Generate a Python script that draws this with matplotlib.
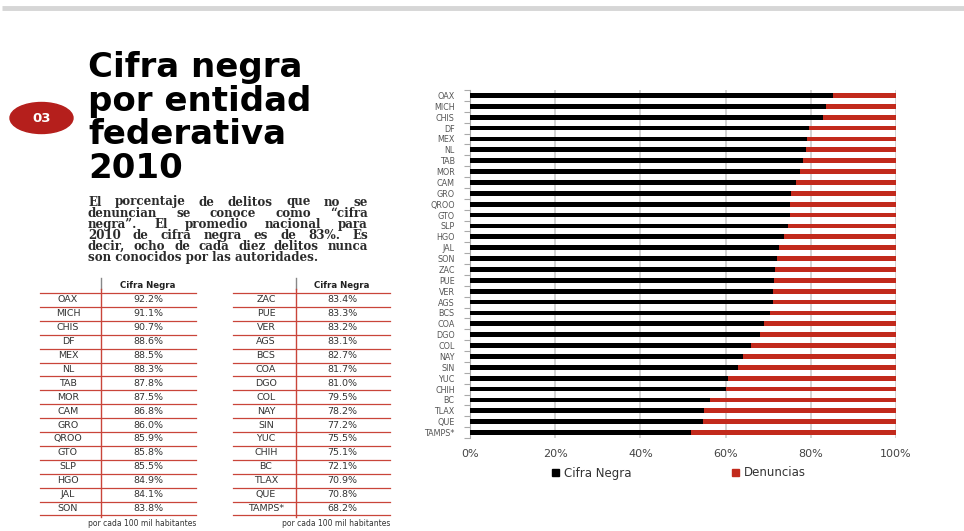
import matplotlib
matplotlib.use("Agg")
import matplotlib.pyplot as plt
from matplotlib.patches import Ellipse, Patch

# --- dados ---------------------------------------------------------------
estados_1 = ["OAX", "MICH", "CHIS", "DF", "MEX", "NL", "TAB", "MOR",
             "CAM", "GRO", "QROO", "GTO", "SLP", "HGO", "JAL", "SON"]
cifra_1 = ["92.2%", "91.1%", "90.7%", "88.6%", "88.5%", "88.3%", "87.8%", "87.5%",
           "86.8%", "86.0%", "85.9%", "85.8%", "85.5%", "84.9%", "84.1%", "83.8%"]
estados_2 = ["ZAC", "PUE", "VER", "AGS", "BCS", "COA", "DGO", "COL",
             "NAY", "SIN", "YUC", "CHIH", "BC", "TLAX", "QUE", "TAMPS*"]
cifra_2 = ["83.4%", "83.3%", "83.2%", "83.1%", "82.7%", "81.7%", "81.0%", "79.5%",
           "78.2%", "77.2%", "75.5%", "75.1%", "72.1%", "70.9%", "70.8%", "68.2%"]

grafico_estados = estados_1 + estados_2
grafico_cifra = [85.3, 83.6, 82.8, 79.5, 79.2, 78.8, 78.2, 77.5, 76.6, 75.3, 75.1,
                 75.0, 74.7, 73.7, 72.5, 72.1, 71.5, 71.4, 71.1, 71.1, 70.5, 68.9,
                 68.1, 66.0, 64.2, 63.0, 60.6, 60.1, 56.4, 54.9, 54.8, 51.8]
grafico_denuncias = [14.7, 16.4, 17.2, 20.5, 20.8, 21.2, 21.8, 22.5, 23.4, 24.7, 24.9,
                     25.0, 25.3, 26.3, 27.5, 27.9, 28.5, 28.6, 28.9, 28.9, 29.5, 31.1,
                     31.9, 34.0, 35.8, 37.0, 39.4, 39.9, 43.6, 45.1, 45.2, 48.2]
x_ticks = [0, 20, 40, 60, 80, 100]

titulo = ["Cifra negra", "por entidad", "federativa", "2010"]
texto = ["El porcentaje de delitos que no se",
         "denuncian se conoce como \u201ccifra",
         "negra\u201d.  El promedio nacional para",
         "2010  de cifra negra es de  83%. Es",
         "decir, ocho de cada diez delitos nunca",
         "son conocidos por las autoridades."]

PRETO = "#000000"
VERMELHO = "#C22A1C"
VERMELHO_CIRC = "#B51F1C"
LINHA = "#C9453A"
CINZA = "#555555"

W, H = 964, 531
fig = plt.figure(figsize=(W / 100, H / 100), dpi=100)
fig.patch.set_facecolor("white")

# camada de fundo em pixels
bg = fig.add_axes([0, 0, 1, 1])
bg.set_xlim(0, W)
bg.set_ylim(H, 0)
bg.axis("off")

# faixa cinza no topo
bg.plot([2, W], [7.5, 7.5], color="#D6D6D6", lw=3.5, solid_capstyle="butt")

# círculo "03"
bg.add_patch(Ellipse((41.5, 118), 63, 31, color=VERMELHO_CIRC))
bg.text(41.5, 118.5, "03", color="white", fontsize=9.5, fontweight="bold",
        ha="center", va="center")

# título
for i, linha in enumerate(titulo):
    bg.text(88, 77 + 33.7 * i, linha, fontsize=24.5, fontweight="bold",
            family="DejaVu Sans", color="black", ha="left", va="baseline")


# parágrafo justificado
def _justificar(ax, linhas, x0, x1, y0, dy, **kw):
    rend = fig.canvas.get_renderer()
    for i, linha in enumerate(linhas):
        y = y0 + dy * i
        palavras = linha.split()
        if i == len(linhas) - 1:
            ax.text(x0, y, linha, va="center", ha="left", **kw)
            continue
        objs = [ax.text(0, y, p, va="center", ha="left", **kw) for p in palavras]
        larg = [t.get_window_extent(rend).width for t in objs]
        gap = (x1 - x0 - sum(larg)) / (len(palavras) - 1)
        x = x0
        for t, w in zip(objs, larg):
            t.set_x(x)
            x += w + gap


_justificar(bg, texto, 88, 368, 202, 11.1, fontsize=8.6, family="DejaVu Serif",
            fontweight="bold", color="#2B2B2B")


# tabelas
def _tabela(estados, valores, xl, xr, xv, xe, xc, xn):
    y_top = 293
    dy = 13.9
    bg.plot([xv, xv], [278, 289], color="#888888", lw=1)
    bg.plot([xv, xv], [289, y_top + dy * len(estados) + 2], color=LINHA, lw=1)
    bg.text(xc, 286, "Cifra Negra", fontsize=6.2, fontweight="bold", color="#222222",
            ha="center", va="center")
    for i in range(len(estados) + 1):
        bg.plot([xl, xr], [y_top + dy * i] * 2, color=LINHA, lw=0.9)
    for i, (e, v) in enumerate(zip(estados, valores)):
        y = y_top + dy * i + dy / 2
        bg.text(xe, y, e, fontsize=6.8, color="#333333", ha="center", va="center")
        bg.text(xc, y, v, fontsize=6.8, color="#333333", ha="center", va="center")
    bg.text(xn, 523, "por cada 100 mil habitantes", fontsize=5.5, color="#333333",
            ha="right", va="center")


_tabela(estados_1, cifra_1, 40, 196, 101, 68, 148, 196)
_tabela(estados_2, cifra_2, 233, 390, 296, 266, 342, 390)

# gráfico de barras empilhadas
ax = fig.add_axes([470 / W, (H - 438) / H, 426 / W, 348 / H])
pos = list(range(len(grafico_estados)))
ax.barh(pos, grafico_cifra, height=0.44, color=PRETO, zorder=3)
ax.barh(pos, grafico_denuncias, left=grafico_cifra, height=0.44, color=VERMELHO, zorder=3)
ax.set_ylim(len(pos) - 0.5, -0.5)
ax.set_xlim(0, 100)
ax.set_yticks(pos)
ax.set_yticklabels(grafico_estados, fontsize=5.8, color=CINZA)
ax.set_yticks([p - 0.5 for p in pos] + [len(pos) - 0.5], minor=True)
ax.tick_params(axis="y", which="major", length=0, pad=11)
ax.tick_params(axis="y", which="minor", length=4, color="#AAAAAA", width=0.8)
ax.set_xticks(x_ticks)
ax.set_xticklabels([f"{v}%" for v in x_ticks], fontsize=8, color="#444444")
ax.tick_params(axis="x", length=0, pad=8)
ax.grid(axis="x", color="#CCCCCC", lw=1.2, zorder=0)
for s in ["top", "right", "bottom"]:
    ax.spines[s].set_visible(False)
ax.spines["left"].set_color("#AAAAAA")

fig.legend(handles=[Patch(color=PRETO, label="Cifra Negra"),
                    Patch(color=VERMELHO, label="Denuncias")],
           loc="center", bbox_to_anchor=(679 / W, (H - 473) / H), ncol=2,
           frameon=False, fontsize=8.5, handlelength=0.6, handleheight=0.6,
           handletextpad=0.4, columnspacing=8.5, labelcolor="#333333")

fig.savefig("out.png", dpi=100, facecolor="white")
